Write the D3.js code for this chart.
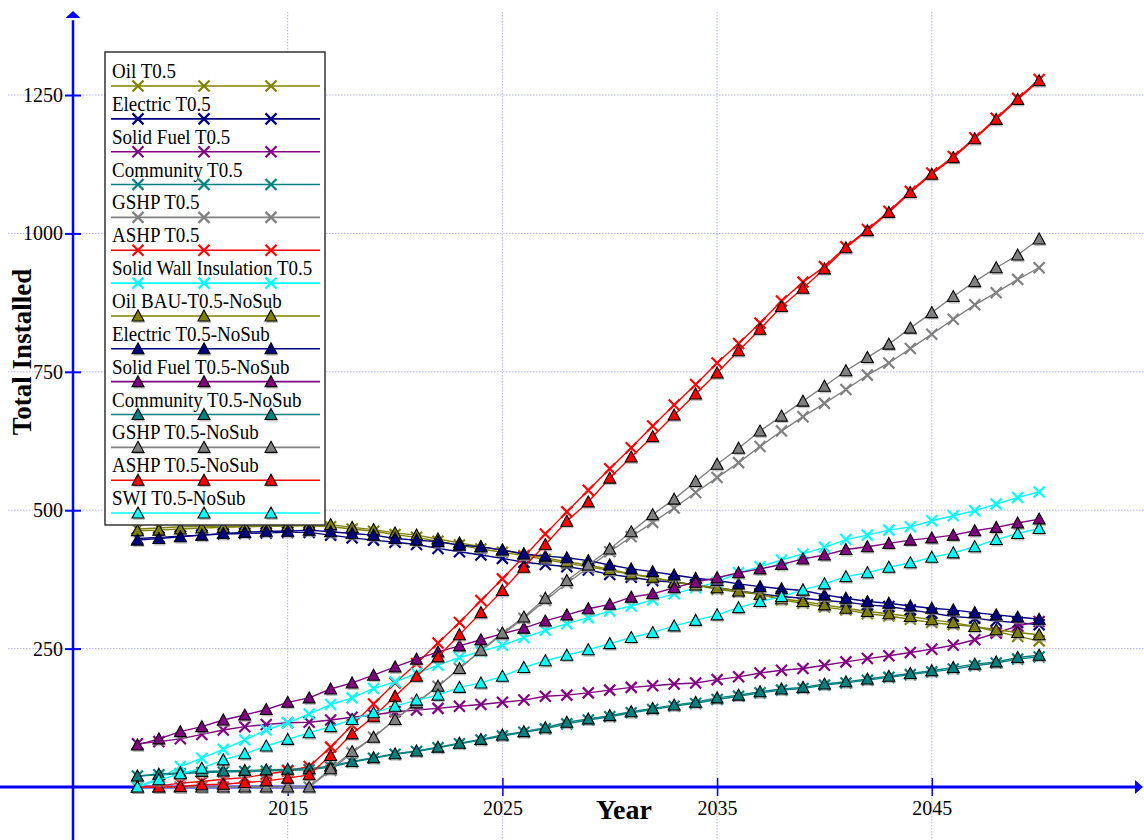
<!DOCTYPE html>
<html><head><meta charset="utf-8">
<script src="https://cdn.jsdelivr.net/npm/d3@7"></script>
<style>
body{margin:0;background:#fff}
text{font-family:"Liberation Serif","Times New Roman",serif;fill:#000}
</style>
</head><body>
<svg id="c" width="1144" height="840"></svg>
<script>
const years = [2008,2009,2010,2011,2012,2013,2014,2015,2016,2017,2018,2019,2020,2021,2022,2023,2024,2025,2026,2027,2028,2029,2030,2031,2032,2033,2034,2035,2036,2037,2038,2039,2040,2041,2042,2043,2044,2045,2046,2047,2048,2049,2050];

const oilT   = [466,468,470,471,471,471,471,472,472, 470,466,462,456,451,444,437,430,424, 418,411,404,398,391,384,378,371,365,357, 352,348,338,332,325,320,313,309,303,297, 293,290,281,272,264];
const elecT  = [449,451,453,455,457,458,459,460,460, 455,450,446,442,438,431,425,419,413, 406,402,398,392,384,379,373,370,365,360, 354,349,344,341,337,334,329,326,320,314, 308,305,300,297,293];
const solidT = [78,82,87,95,103,109,113,116,117, 121,126,130,136,139,142,146,149,153, 157,164,166,170,175,180,183,186,188,194, 199,206,211,214,220,226,232,237,243,249, 256,266,278,291,299];
const commT  = [20,22,24,26,27,28,29,30,31, 36,45,52,59,64,71,78,85,92, 99,105,114,121,127,134,140,146,151,158, 164,170,175,178,184,188,193,198,203,208, 213,219,224,231,235];
const gshpT  = [0,0,0,0,0,0,0,0,0, 30,62,90,122,152,182,214,246,276, 305,337,368,396,425,452,478,504,532,559, 586,615,643,669,693,718,744,766,792,818, 845,871,893,917,938];
const ashpT  = [0,2,7,10,14,17,23,29,37, 72,112,150,188,223,260,297,337,376, 416,457,497,536,575,613,652,690,727,766, 801,838,878,912,940,976,1007,1040,1076,1109, 1139,1173,1208,1244,1278];
const swiT   = [0,16,37,52,68,85,103,116,132, 149,161,178,190,205,220,234,245,256, 270,283,295,306,318,327,338,349,360,370, 387,398,410,421,433,447,455,464,470,481, 490,499,511,523,533];

const oilN   = [463,464,466,468,469,470,471,472,473, 474,469,465,459,455,448,441,434,428, 421,414,407,401,393,385,379,370,365,360, 354,348,340,335,329,323,317,313,308,302, 297,290,284,279,275];
const elecN  = [446,449,452,455,458,460,462,462,464, 461,458,455,449,446,443,437,434,428, 421,417,414,409,401,394,389,383,377,373, 367,362,358,355,347,341,335,332,327,323, 320,315,311,307,303];
const solidN = [76,87,100,109,121,130,140,153,161, 177,188,202,217,231,244,255,266,277, 287,300,311,322,330,343,349,360,370,378, 387,394,402,412,419,429,434,440,446,450, 455,463,469,477,484];
const commN  = [20,23,26,28,29,30,31,32,33, 38,46,53,60,65,72,79,86,94, 100,107,117,123,129,136,142,148,153,161, 166,172,177,180,186,190,195,200,205,210, 216,222,226,234,238];
const gshpN  = [0,0,0,0,0,0,0,0,0, 33,64,90,122,152,182,214,247,278, 307,341,373,401,430,461,492,520,552,583, 612,643,670,697,724,752,776,800,829,857, 886,913,938,961,990];
const ashpN  = [0,0,1,4,5,8,11,16,22, 57,96,127,164,200,235,275,315,355, 397,438,480,515,558,596,633,672,710,748, 788,827,868,901,936,974,1005,1038,1074,1107, 1137,1171,1206,1242,1276];
const swiN   = [0,13,24,34,49,60,74,86,98, 109,122,134,146,157,166,180,188,200, 216,228,238,248,259,270,279,291,301,311, 324,335,344,356,367,380,387,397,405,415, 423,434,447,458,467];

const seriesNames = ["Oil T0.5","Electric T0.5","Solid Fuel T0.5","Community T0.5","GSHP T0.5","ASHP T0.5","Solid Wall Insulation T0.5",
  "Oil BAU-T0.5-NoSub","Electric T0.5-NoSub","Solid Fuel T0.5-NoSub","Community T0.5-NoSub","GSHP T0.5-NoSub","ASHP T0.5-NoSub","SWI T0.5-NoSub"];
const seriesValues = [oilT,elecT,solidT,commT,gshpT,ashpT,swiT,oilN,elecN,solidN,commN,gshpN,ashpN,swiN];
const seriesColors = ["#808000","#000080","#800080","#008080","#808080","#ff0000","#00ffff",
  "#808000","#000080","#800080","#008080","#808080","#ff0000","#00ffff"];
const seriesMarkers = ["x","x","x","x","x","x","x","tri","tri","tri","tri","tri","tri","tri"];

const yTicks = [250,500,750,1000,1250];
const xTicks = [2015,2025,2035,2045];

const svg = d3.select("#c");
const x = d3.scaleLinear().domain([2005,2055]).range([73,1146.5]);
const y = d3.scaleLinear().domain([0,1400]).range([787,12]);
const axisBlue = "#0000ff";
const gridCol = "#b4b4ff";

// grid
svg.append("g").selectAll("line").data(yTicks).join("line")
  .attr("x1",8).attr("x2",1144).attr("y1",d=>y(d)).attr("y2",d=>y(d))
  .attr("stroke",gridCol).attr("stroke-width",1).attr("stroke-dasharray","1.5,1.5");
svg.append("g").selectAll("line").data(xTicks).join("line")
  .attr("y1",y(1400)).attr("y2",840).attr("x1",d=>x(d)).attr("x2",d=>x(d))
  .attr("stroke",gridCol).attr("stroke-width",1).attr("stroke-dasharray","1.5,1.5");

// axes lines
svg.append("line").attr("x1",x(2005)).attr("x2",x(2005)).attr("y1",840).attr("y2",y(1385))
  .attr("stroke",axisBlue).attr("stroke-width",2.5);
svg.append("path").attr("d",`M${x(2005)},${y(1400)-1} L${x(2005)-7.5},${y(1400)+6} L${x(2005)+7.5},${y(1400)+6} Z`).attr("fill",axisBlue);
svg.append("line").attr("x1",0).attr("x2",1136).attr("y1",y(0)).attr("y2",y(0))
  .attr("stroke",axisBlue).attr("stroke-width",3);
svg.append("path").attr("d",`M1143,${y(0)} L1135,${y(0)-7} L1135,${y(0)+7} Z`).attr("fill",axisBlue);

// y axis ticks + labels
const yAxis = svg.append("g").attr("transform",`translate(${x(2005)+8},0)`)
  .call(d3.axisLeft(y).tickValues(yTicks).tickSizeInner(16).tickSizeOuter(0).tickPadding(2).tickFormat(d3.format("d")));
yAxis.select(".domain").remove();
yAxis.selectAll("line").attr("stroke",axisBlue).attr("stroke-width",2);
yAxis.selectAll("text").attr("font-size",20).attr("font-family","Liberation Serif, serif").attr("fill","#000");

// x axis ticks + labels
const xAxis = svg.append("g").attr("transform",`translate(0,${y(0)+9})`)
  .call(d3.axisBottom(x).tickValues(xTicks).tickSizeInner(-18).tickSizeOuter(0).tickPadding(5).tickFormat(d3.format("d")));
xAxis.select(".domain").remove();
xAxis.selectAll("line").attr("stroke",axisBlue).attr("stroke-width",1.5);
xAxis.selectAll("text").attr("font-size",20).attr("font-family","Liberation Serif, serif").attr("fill","#000");

// axis titles
svg.append("text").attr("transform","translate(31,352) rotate(-90)").attr("text-anchor","middle")
  .attr("font-size",27).attr("font-weight","bold").text("Total Installed");
svg.append("text").attr("x",624).attr("y",819).attr("text-anchor","middle")
  .attr("font-size",28).attr("font-weight","bold").text("Year");

// markers
function drawMarker(g, kind, color, cx, cy){
  if(kind==="x"){
    const s=5.5;
    g.append("path").attr("d",`M${cx-s},${cy-s}L${cx+s},${cy+s}M${cx-s},${cy+s}L${cx+s},${cy-s}`)
      .attr("stroke",color).attr("stroke-width",2.2).attr("fill","none");
  } else {
    g.append("path").attr("d",`M${cx+1},${cy-4} L${cx+7},${cy+7} L${cx-5},${cy+7} Z`)
      .attr("fill","#9a9a9a").attr("opacity",0.6);
    g.append("path").attr("d",`M${cx},${cy-6} L${cx+6},${cy+5} L${cx-6},${cy+5} Z`)
      .attr("fill",color).attr("stroke","#000").attr("stroke-width",1.1);
  }
}

const line = d3.line().x((d,i)=>x(years[i])).y(d=>y(d));
const plot = svg.append("g");
seriesValues.forEach((vals,k)=>{
  const g = plot.append("g");
  g.append("path").attr("d",line(vals)).attr("fill","none")
    .attr("stroke",seriesColors[k]).attr("stroke-width",1.4);
  vals.forEach((v,i)=>drawMarker(g, seriesMarkers[k], seriesColors[k], x(years[i]), y(v)));
});

// legend
const lg = svg.append("g");
lg.append("rect").attr("x",105).attr("y",52).attr("width",220).attr("height",473)
  .attr("fill","#fff").attr("stroke","#333").attr("stroke-width",1.5);
const legendStep = 32.85;
seriesNames.forEach((name,k)=>{
  const ly = 86 + k*legendStep;
  lg.append("text").attr("transform",`translate(112,${ly-8}) scale(1,1.12)`).attr("font-size",19).text(name);
  lg.append("line").attr("x1",111).attr("x2",320).attr("y1",ly).attr("y2",ly)
    .attr("stroke",seriesColors[k]).attr("stroke-width",1.6);
  [138,204,271].forEach(mx=>drawMarker(lg, seriesMarkers[k], seriesColors[k], mx, ly));
});
</script>
</body></html>
